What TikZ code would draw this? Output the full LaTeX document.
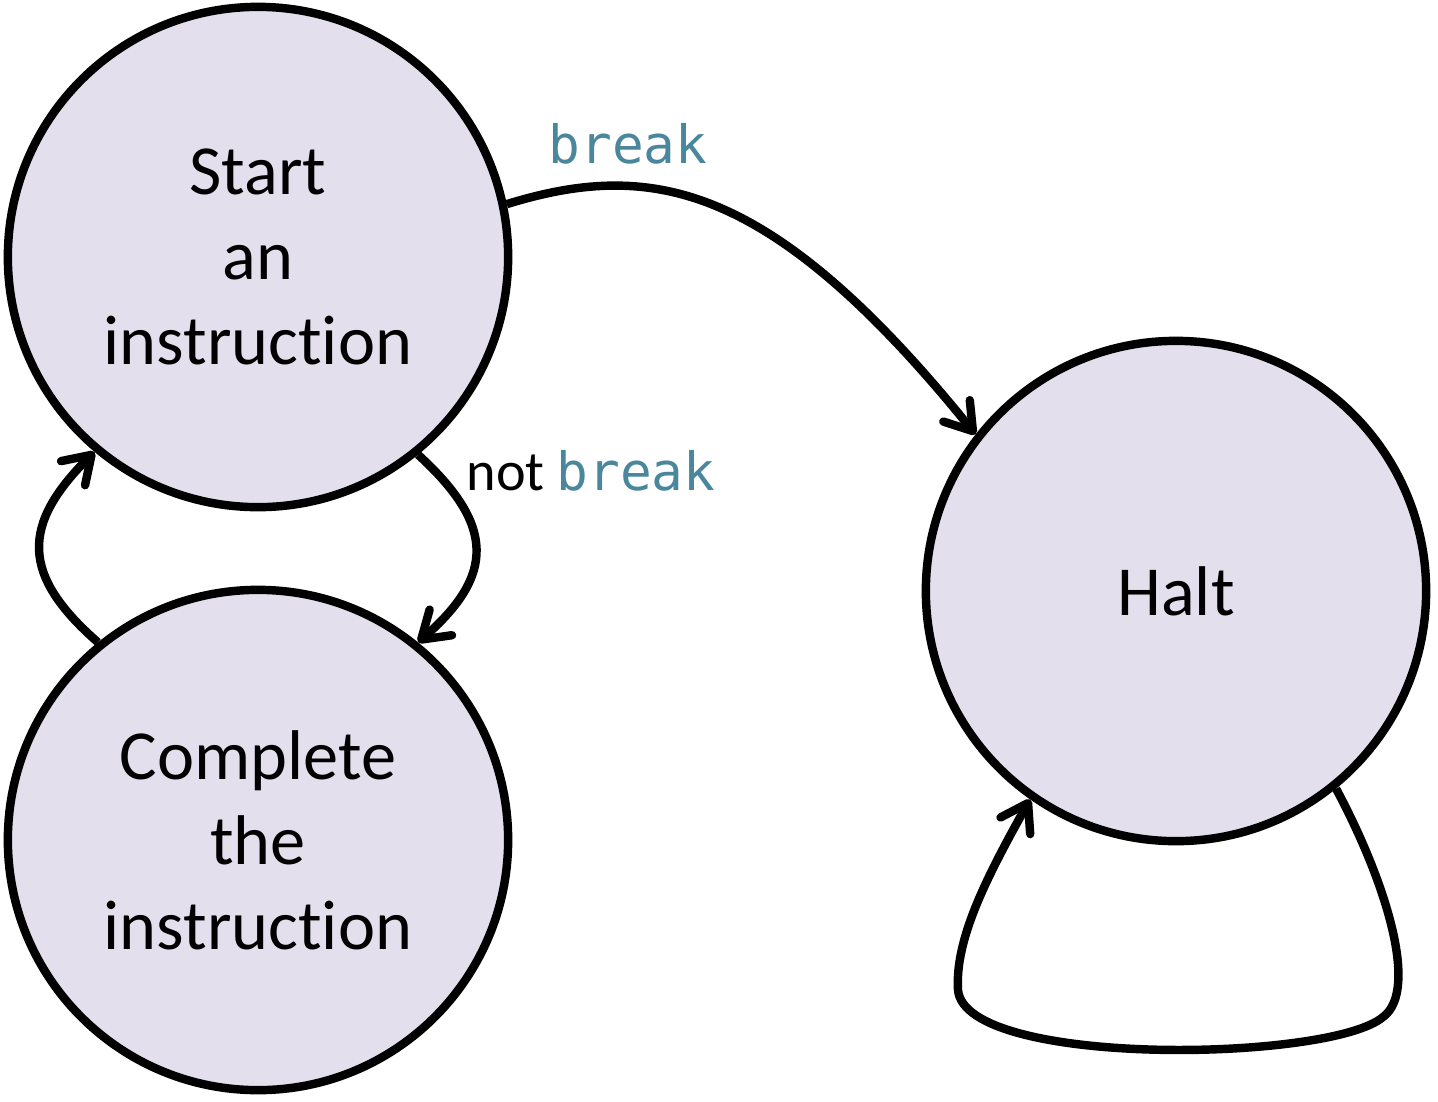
\documentclass[tikz,border=0pt]{standalone}
\usepackage{fontspec}
\setmainfont{Carlito}[Ligatures=NoCommon]
\setmonofont{DejaVu Sans Mono}
\usetikzlibrary{arrows.meta}
\definecolor{statefill}{RGB}{228,223,236}
\definecolor{kwblue}{RGB}{74,134,156}
\newcommand{\kw}[1]{{\color{kwblue}\ttfamily\fontsize{15}{18}\selectfont #1}}

\begin{document}
\begin{tikzpicture}[x=0.01cm,y=-0.01cm,
  font=\fontsize{20}{24.2}\selectfont,
  state/.style={circle,draw,fill=statefill,line width=2.4pt,minimum size=5cm,
                inner sep=0pt,align=center},
  lbl/.style={inner sep=0pt,anchor=base},
  flow/.style={line width=2.4pt,-{Straight Barb[round,length=2.6mm,width=3.4mm]}}]
\useasboundingbox (0,0) rectangle (1438,1102);

\node[state] (start) at (258,257) {Start\\an\\instruction};
\node[state] (complete) at (258,840) {Complete\\the\\instruction};
\node[state] (halt) at (1176,591) {Halt};

\node[lbl] (brk) at (628,163) {\kw{break}};
\node[lbl,anchor=base west] (nbrk) at (466,490)
  {{\fontsize{16}{19}\selectfont not}\,\kw{break}};

\draw[flow] (start.12) .. controls (650,160) and (770,180) .. (halt.142);
\draw[flow] (start.-51) .. controls (495,525) and (495,575) .. (complete.51);
\draw[flow] (complete.129) .. controls (21,575) and (21,525) .. (start.230);
% self loop under Halt, built from three pieces
\draw[flow] (halt.-51) .. controls (1385,880) and (1420,990) .. (1383,1017)
  .. controls (1330,1062) and (965,1068) .. (958,990)
  .. controls (955,940) and (985,880) .. (halt.235);
\end{tikzpicture}
\end{document}
